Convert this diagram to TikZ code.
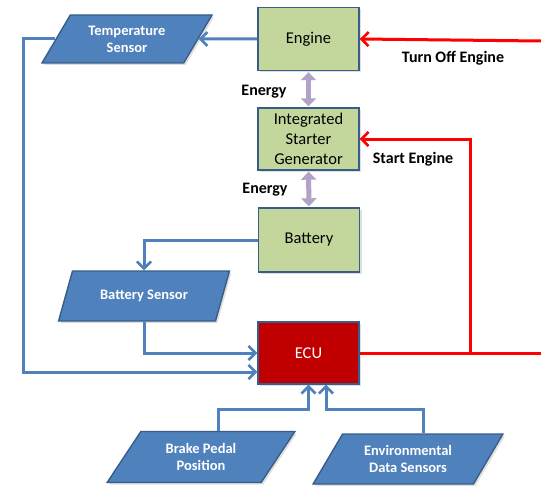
\documentclass[tikz,border=0pt]{standalone}
\usepackage{fontspec}
\setmainfont{Carlito}
\usetikzlibrary{shapes.geometric,arrows.meta,shadows}
\definecolor{sblue}{HTML}{4F81BD}
\definecolor{sborder}{HTML}{385D8A}
\definecolor{sgreen}{HTML}{C3D69B}
\definecolor{sred}{HTML}{C00000}
\definecolor{spurple}{HTML}{B3A2C7}
\tikzset{
  greenbox/.style={draw=sborder, line width=1.4pt, fill=sgreen, minimum width=101pt, minimum height=63pt, align=center, font=\fontsize{16.5}{20}\selectfont, inner sep=0pt,
    drop shadow={opacity=0.25, shadow xshift=2pt, shadow yshift=-2pt}},
  ecubox/.style={greenbox, fill=sred, text=white},
  sensor/.style={trapezium, trapezium left angle=54, trapezium right angle=126, trapezium stretches=true,
    draw=sborder, line width=1.4pt, fill=sblue, text=white, align=center, inner sep=0pt,
    font=\bfseries\fontsize{14.5}{17}\selectfont,
    drop shadow={opacity=0.25, shadow xshift=2pt, shadow yshift=-2pt}},
  bluearrow/.style={draw=sblue, line width=3pt, -{Straight Barb[length=7pt,width=14pt,line width=2.6pt]}},
  blueline/.style={draw=sblue, line width=3pt},
  redarrow/.style={draw=red, line width=3pt, -{Straight Barb[length=7pt,width=14pt,line width=2.6pt]}},
  redline/.style={draw=red, line width=3pt},
  energy/.style={draw=spurple, line width=5pt, {Triangle[length=8pt,width=15pt]}-{Triangle[length=8pt,width=15pt]}, shorten <=1pt, shorten >=1pt},
  lbl/.style={font=\bfseries\fontsize{16}{19}\selectfont, text=black}
}
\begin{document}
\begin{tikzpicture}[x=1pt,y=-1pt]
\useasboundingbox (0,0) rectangle (541,487);

% main boxes
\node[greenbox] (engine) at (308.5,39) {Engine};
\node[greenbox, minimum height=62pt] (isg) at (308.5,139) {Integrated\\Starter\\Generator};
\node[greenbox, minimum height=64pt] (battery) at (309,240) {Battery};
\node[ecubox, minimum height=62pt] (ecu) at (308.5,353) {ECU};

% sensors
\node[sensor, minimum width=170pt, minimum height=48pt] (temp) at (127,39) {Temperature\\Sensor};
\node[sensor, minimum width=171pt, minimum height=50pt] (bsens) at (144,296) {Battery Sensor};
\node[sensor, minimum width=188pt, minimum height=51pt] (brake) at (201,457) {Brake Pedal\\Position};
\node[sensor, minimum width=190pt, minimum height=50pt] (env) at (408,459) {Environmental\\Data Sensors};

% coordinates
\coordinate (leftx) at (23,0);
\coordinate (redx) at (470,0);
\coordinate (rightE) at (541,41);
\coordinate (rightR) at (541,353);
\coordinate (joiny) at (0,409);
\coordinate (ecuin) at ([yshift=-19pt]ecu.west);

% blue connectors
\draw[bluearrow] (engine.west) -- (temp.east);
\draw[bluearrow] (temp.west) -- (temp.west -| leftx) -- (ecuin -| leftx) -- (ecuin);
\draw[bluearrow] (battery.west) -| (bsens.north);
\draw[bluearrow] (bsens.south) |- (ecu.west);
\draw[bluearrow] (brake.top side) |- (joiny -| ecu.south) -- (ecu.south);
\draw[bluearrow] (env.top side) |- ([xshift=17.5pt]joiny -| ecu.south) -- ([xshift=17.5pt]ecu.south);

% red connectors
\draw[redarrow] (rightE) -- (engine.east);
\draw[redline] (ecu.east) -- (rightR);
\draw[redarrow] (redx |- ecu.east) |- (isg.east);

% energy
\draw[energy] (engine.south) -- (isg.north);
\draw[energy] (isg.south) -- (battery.north);

% labels
\node[lbl] (lturn) at (453,58) {Turn Off Engine};
\node[lbl] (lstart) at (413,159) {Start Engine};
\node[lbl] (le1) at (264,92) {Energy};
\node[lbl] (le2) at (265,190) {Energy};
\end{tikzpicture}
\end{document}
